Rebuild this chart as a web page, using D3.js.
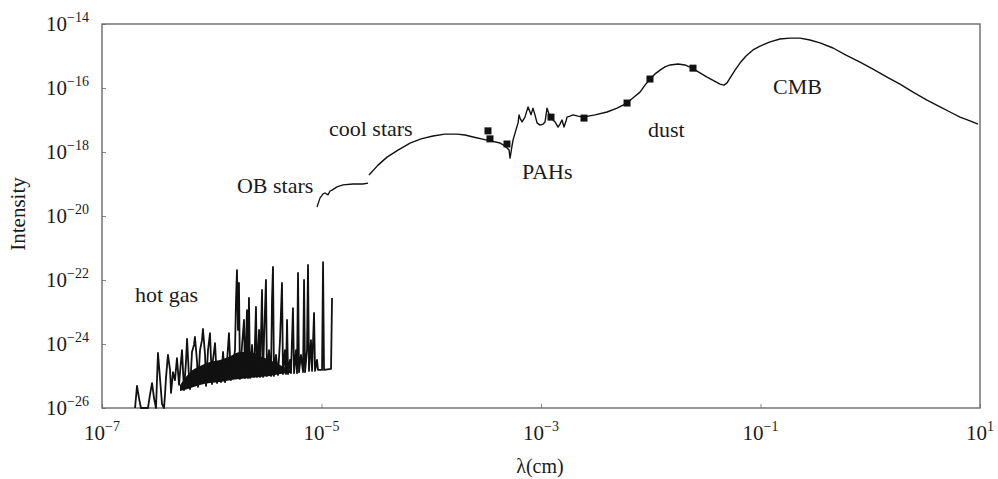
<!DOCTYPE html>
<html>
<head>
<meta charset="utf-8">
<script src="https://cdn.jsdelivr.net/npm/d3@7"></script>
<style>
body { margin: 0; background: #fff; }
svg text { font-family: "Liberation Serif", "Times New Roman", serif; fill: #1a1a1a; }
</style>
</head>
<body>
<div id="chart"></div>
<script>
// data below: every pair is [log10 lambda (cm), log10 intensity]

var hotGas = [
    [-6.699,-26.00],[-6.681,-25.31],[-6.663,-25.69],[-6.645,-26.00],[-6.581,-26.00],[-6.563,-25.59],
    [-6.544,-25.22],[-6.526,-25.69],[-6.508,-26.00],[-6.499,-25.13],[-6.490,-24.28],[-6.472,-25.06],
    [-6.453,-25.88],[-6.435,-26.00],[-6.426,-25.59],[-6.417,-25.06],[-6.399,-24.34],[-6.380,-24.81],
    [-6.371,-25.53],[-6.353,-24.88],[-6.335,-25.13],[-6.317,-24.44],[-6.298,-25.28],[-6.289,-24.88],
    [-6.271,-24.19],[-6.253,-25.44],[-6.235,-24.56],[-6.225,-23.84],[-6.207,-25.06],[-6.198,-25.41],
    [-6.180,-24.25],[-6.162,-24.03],[-6.153,-23.78],[-6.134,-24.56],[-6.125,-25.34],[-6.107,-24.19],
    [-6.089,-23.88],[-6.080,-23.53],[-6.061,-24.34],[-6.052,-25.31],[-6.034,-24.19],[-6.016,-23.66],
    [-5.998,-25.25],[-5.989,-24.50],[-5.970,-23.97],[-5.952,-25.22],[-5.934,-24.66],[-5.916,-25.19],
    [-5.897,-24.25],[-5.879,-25.19],[-5.861,-24.56],[-5.843,-23.66],[-5.825,-25.13],[-5.806,-24.66],
    [-5.788,-24.19],[-5.779,-22.63],[-5.770,-21.69],[-5.761,-23.56],[-5.752,-22.09],[-5.743,-25.09],
    [-5.724,-24.03],[-5.706,-23.25],[-5.697,-25.06],[-5.679,-22.94],[-5.670,-25.06],[-5.661,-22.56],
    [-5.651,-25.06],[-5.633,-24.03],[-5.615,-25.03],[-5.597,-22.84],[-5.588,-25.03],[-5.569,-23.56],
    [-5.560,-25.03],[-5.542,-22.31],[-5.533,-25.03],[-5.524,-23.88],[-5.506,-22.00],[-5.497,-25.00],
    [-5.478,-24.19],[-5.460,-25.00],[-5.451,-22.63],[-5.442,-21.59],[-5.433,-25.00],[-5.415,-24.34],
    [-5.396,-24.97],[-5.378,-23.88],[-5.360,-22.09],[-5.351,-24.94],[-5.333,-24.19],[-5.323,-24.94],
    [-5.314,-23.25],[-5.305,-24.94],[-5.287,-24.50],[-5.278,-24.91],[-5.260,-22.88],[-5.250,-24.91],
    [-5.232,-24.19],[-5.223,-24.91],[-5.214,-21.78],[-5.205,-24.88],[-5.187,-24.34],[-5.168,-24.88],
    [-5.159,-22.00],[-5.150,-24.88],[-5.132,-24.19],[-5.123,-21.53],[-5.114,-24.84],[-5.096,-23.88],
    [-5.086,-24.84],[-5.068,-23.03],[-5.059,-24.84],[-5.041,-24.50],[-5.032,-24.81],[-4.995,-24.81],
    [-4.986,-21.44],[-4.977,-24.81],[-4.913,-24.78],[-4.904,-22.56]
];

// blended line forest of the hot gas: continuum (low) and top of the dense band (high)
var blendLam  = [-6.289, -6.198, -6.107, -6.016, -5.925, -5.834, -5.743, -5.651, -5.560, -5.469, -5.378, -5.287];
var blendLow  = [-25.47, -25.38, -25.28, -25.22, -25.19, -25.13, -25.09, -25.06, -25.03, -25.00, -24.94, -24.91];
var blendHigh = [-25.28, -24.88, -24.69, -24.56, -24.50, -24.38, -24.25, -24.25, -24.38, -24.50, -24.66, -24.81];

var obStars = [
    [-5.041,-19.72],[-5.014,-19.44],[-4.986,-19.31],[-4.968,-19.28],[-4.941,-19.34],[-4.922,-19.22],
    [-4.904,-19.19],[-4.859,-19.09],[-4.804,-19.03],[-4.713,-19.00],[-4.622,-19.00],[-4.576,-18.97]
];

var coolStars = [
    [-4.567,-18.72],[-4.485,-18.41],[-4.403,-18.16],[-4.303,-17.94],[-4.193,-17.72],[-4.093,-17.59],
    [-3.984,-17.50],[-3.875,-17.44],[-3.765,-17.44],[-3.692,-17.47],[-3.619,-17.53],[-3.492,-17.63],
    [-3.373,-17.72]
];

var pahs = [
    [-3.328,-17.81],[-3.291,-17.94],[-3.282,-18.19],[-3.264,-17.81],[-3.255,-17.63],[-3.228,-17.31],
    [-3.209,-17.09],[-3.200,-16.84],[-3.191,-16.94],[-3.173,-17.06],[-3.146,-16.91],[-3.127,-16.69],
    [-3.118,-16.59],[-3.100,-16.75],[-3.091,-16.84],[-3.073,-16.63],[-3.055,-16.84],[-3.036,-17.09],
    [-3.009,-17.16],[-2.982,-17.13],[-2.963,-17.06],[-2.945,-16.63],[-2.927,-16.81],[-2.918,-16.94],
    [-2.891,-17.00],[-2.872,-17.06],[-2.845,-17.22],[-2.827,-17.13],[-2.809,-17.00],[-2.790,-17.22],
    [-2.772,-17.03],[-2.763,-16.91],[-2.736,-16.88],[-2.708,-16.84],[-2.663,-16.88],[-2.617,-16.91]
];

var dust = [
    [-2.508,-16.84],[-2.398,-16.75],[-2.307,-16.63],[-2.216,-16.47],[-2.152,-16.28],[-2.098,-16.13],
    [-2.052,-15.91],[-2.007,-15.72],[-1.961,-15.56],[-1.915,-15.44],[-1.870,-15.34],[-1.824,-15.28],
    [-1.751,-15.25],[-1.688,-15.28],[-1.624,-15.38],[-1.551,-15.53],[-1.487,-15.66],[-1.423,-15.78],
    [-1.369,-15.88],[-1.332,-15.91]
];

var cmb = [
    [-1.305,-15.84],[-1.278,-15.69],[-1.232,-15.44],[-1.187,-15.22],[-1.132,-15.00],[-1.068,-14.81],
    [-1.004,-14.69],[-0.913,-14.56],[-0.822,-14.47],[-0.731,-14.44],[-0.640,-14.44],[-0.549,-14.50],
    [-0.458,-14.59],[-0.339,-14.75],[-0.221,-14.97],[-0.093,-15.19],[0.025,-15.41],[0.153,-15.66],
    [0.271,-15.88],[0.390,-16.13],[0.517,-16.38],[0.636,-16.59],[0.727,-16.75],[0.818,-16.91],
    [0.909,-17.03],[0.982,-17.13]
];

// measured points (squares)
var measured = [
    [-3.483,-17.34],[-3.465,-17.59],[-3.310,-17.75],[-2.909,-16.91],
    [-2.608,-16.94],[-2.216,-16.47],[-2.007,-15.72],[-1.615,-15.38]
];

var xTickExp = [-7, -5, -3, -1, 1];
var yTickExp = [-14, -16, -18, -20, -22, -24, -26];

var labelNames = ["hot gas", "OB stars", "cool stars", "PAHs", "dust", "CMB"];
var labelAt = [[-6.699,-22.69],[-5.770,-19.28],[-4.932,-17.50],[-3.173,-18.84],[-2.025,-17.53],[-0.886,-16.19]];

// rest of logic below

var outerWidth = 998,
    outerHeight = 479,
    plot = { left: 102, right: 980, top: 24, bottom: 408 };

function p10(e) { return Math.pow(10, e); }

var x = d3.scaleLog()
    .domain([1e-7, 10])
    .range([plot.left, plot.right]);

var y = d3.scaleLog()
    .domain([1e-26, 1e-14])
    .range([plot.bottom, plot.top]);

var svg = d3.select("#chart")
    .append("svg")
    .attr("width", outerWidth)
    .attr("height", outerHeight);

var line = d3.line()
    .x(function(d) { return x(p10(d[0])); })
    .y(function(d) { return y(p10(d[1])); });

// inner tick marks
var xAxis = d3.axisBottom(x)
    .tickValues(xTickExp.map(p10))
    .tickSize(-4)
    .tickFormat("");

var yAxis = d3.axisLeft(y)
    .tickValues(yTickExp.map(p10))
    .tickSize(-4)
    .tickFormat("");

svg.append("g")
    .attr("transform", "translate(0," + plot.bottom + ")")
    .call(xAxis)
    .call(function(g) { g.select(".domain").remove(); })
    .selectAll("line").attr("stroke", "#888");

svg.append("g")
    .attr("transform", "translate(" + plot.left + ",0)")
    .call(yAxis)
    .call(function(g) { g.select(".domain").remove(); })
    .selectAll("line").attr("stroke", "#888");

// frame
svg.append("rect")
    .attr("x", plot.left)
    .attr("y", plot.top)
    .attr("width", plot.right - plot.left)
    .attr("height", plot.bottom - plot.top)
    .attr("fill", "none")
    .attr("stroke", "#6a6a6a")
    .attr("stroke-width", 1.4);

// tick labels as 10^n
var xl = svg.append("g").selectAll("text")
    .data(xTickExp)
    .enter()
    .append("text")
    .attr("x", function(d) { return x(p10(d)); })
    .attr("y", 440)
    .attr("text-anchor", "middle")
    .style("font-size", "21px");
xl.append("tspan").text("10");
xl.append("tspan")
    .attr("dy", -9)
    .style("font-size", "14px")
    .text(function(d) { return d < 0 ? "\u2212" + (-d) : "" + d; });

var yl = svg.append("g").selectAll("text")
    .data(yTickExp)
    .enter()
    .append("text")
    .attr("x", 89)
    .attr("y", function(d) { return y(p10(d)) + 7; })
    .attr("text-anchor", "end")
    .style("font-size", "21px");
yl.append("tspan").text("10");
yl.append("tspan")
    .attr("dy", -9)
    .style("font-size", "14px")
    .text(function(d) { return "\u2212" + (-d); });

// axis titles
svg.append("text")
    .attr("transform", "translate(25,214) rotate(-90)")
    .attr("text-anchor", "middle")
    .style("font-size", "21px")
    .text("Intensity");

svg.append("text")
    .attr("x", 540)
    .attr("y", 473)
    .attr("text-anchor", "middle")
    .style("font-size", "20px")
    .text("\u03bb(cm)");

// spectrum
var blendArea = d3.area()
    .x(function(d, i) { return x(p10(blendLam[i])); })
    .y0(function(d, i) { return y(p10(blendLow[i])); })
    .y1(function(d, i) { return y(p10(blendHigh[i])); })
    .curve(d3.curveMonotoneX);

svg.append("path")
    .attr("d", blendArea(blendLam))
    .attr("fill", "#111");

var curves = svg.append("g")
    .attr("fill", "none")
    .attr("stroke", "#111")
    .attr("stroke-linejoin", "round");

curves.append("path")
    .attr("d", line(hotGas))
    .attr("stroke-width", 1.8);

curves.append("path")
    .attr("d", line(obStars))
    .attr("stroke-width", 1.3);

curves.append("path")
    .attr("d", line(coolStars.concat(pahs, dust, cmb)))
    .attr("stroke-width", 1.4);

svg.append("g").selectAll("rect")
    .data(measured)
    .enter()
    .append("rect")
    .attr("x", function(d) { return x(p10(d[0])) - 3.5; })
    .attr("y", function(d) { return y(p10(d[1])) - 3.5; })
    .attr("width", 7)
    .attr("height", 7)
    .attr("fill", "#111");

// region labels
svg.append("g").selectAll("text")
    .data(labelNames)
    .enter()
    .append("text")
    .attr("x", function(d, i) { return x(p10(labelAt[i][0])); })
    .attr("y", function(d, i) { return y(p10(labelAt[i][1])); })
    .style("font-size", "22px")
    .text(function(d) { return d; });
</script>
</body>
</html>
